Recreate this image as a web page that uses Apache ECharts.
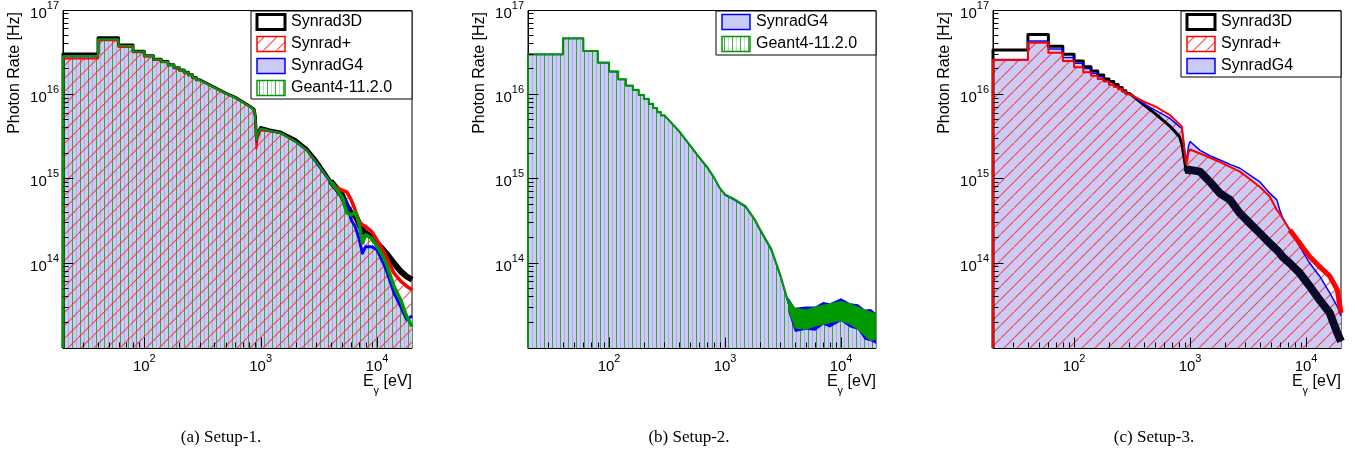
<!DOCTYPE html>
<html>
<head>
<meta charset="utf-8">
<script src="https://cdn.jsdelivr.net/npm/echarts@6.0.0/dist/echarts.min.js"></script>
<style>
  html, body { margin: 0; padding: 0; background: #fff; }
  #chart { width: 1355px; height: 452px; }
</style>
</head>
<body>
<div id="chart"></div>
<script>
// axis ranges
const X_MIN = 20, X_MAX = 20000, Y_MIN = 1e13, Y_MAX = 1e17;

// 20 eV bins below 300 eV
const binEdges = [20, 40, 60, 80, 100, 120, 140, 160, 180, 200, 220, 240, 260, 280, 300];

// ---- Setup-1 ----
const s1_synrad3d_bins = [3.05e16, 4.75e16, 3.9e16, 3.3e16, 2.9e16, 2.65e16, 2.48e16, 2.27e16, 2.1e16, 1.97e16, 1.85e16, 1.73e16, 1.61e16, 1.51e16];
const s1_synradp_bins  = [2.7e16, 4.45e16, 3.7e16, 3.2e16, 2.85e16, 2.6e16, 2.44e16, 2.24e16, 2.07e16, 1.95e16, 1.83e16, 1.71e16, 1.6e16, 1.5e16];
const s1_synradg4_bins = [2.85e16, 4.55e16, 3.8e16, 3.25e16, 2.87e16, 2.62e16, 2.45e16, 2.25e16, 2.08e16, 1.96e16, 1.84e16, 1.72e16, 1.6e16, 1.5e16];
const s1_geant4_bins   = [2.87e16, 4.57e16, 3.8e16, 3.26e16, 2.88e16, 2.63e16, 2.46e16, 2.26e16, 2.09e16, 1.96e16, 1.84e16, 1.72e16, 1.6e16, 1.5e16];
const s1_E = [300, 400, 500, 600, 700, 800, 880, 900, 920, 940, 1000, 1200, 1500, 2000, 2500, 3000, 3500, 4000, 4500, 5000, 5500, 6000, 6500, 7000, 7500, 8000, 9000, 10000, 11000, 12000, 14000, 16000, 18000, 20000];
const s1_synrad3d = [1.5e16, 1.23e16, 1.05e16, 9.4e15, 8.3e15, 7.4e15, 6.7e15, 5.6e15, 3.0e15, 3.5e15, 4.1e15, 3.85e15, 3.6e15, 2.95e15, 2.3e15, 1.7e15, 1.25e15, 9.5e14, 7.8e14, 6.5e14, 4.8e14, 3.95e14, 3.78e14, 3.0e14, 2.5e14, 2.29e14, 2.09e14, 1.75e14, 1.52e14, 1.33e14, 1.01e14, 8.1e13, 7.05e13, 6.45e13];
const s1_synradp  = [1.49e16, 1.22e16, 1.04e16, 9.3e15, 8.2e15, 7.3e15, 6.6e15, 5.0e15, 2.3e15, 3.0e15, 3.8e15, 3.7e15, 3.5e15, 2.8e15, 2.2e15, 1.6e15, 1.2e15, 9.3e14, 8.0e14, 7.4e14, 7.1e14, 5.7e14, 4.3e14, 3.15e14, 2.88e14, 2.75e14, 2.4e14, 1.91e14, 1.52e14, 1.21e14, 7.7e13, 6.2e13, 5.4e13, 4.9e13];
const s1_synradg4 = [1.48e16, 1.22e16, 1.04e16, 9.3e15, 8.2e15, 7.3e15, 6.6e15, 5.3e15, 2.8e15, 3.3e15, 3.95e15, 3.7e15, 3.45e15, 2.75e15, 2.15e15, 1.55e15, 1.15e15, 9.0e14, 7.4e14, 6.0e14, 5.3e14, 3.3e14, 2.75e14, 2.0e14, 1.33e14, 1.59e14, 1.59e14, 1.46e14, 1.11e14, 8.45e13, 4.5e13, 3.1e13, 2.17e13, 2.4e13];
const s1_geant4   = [1.48e16, 1.22e16, 1.04e16, 9.3e15, 8.2e15, 7.3e15, 6.6e15, 5.4e15, 2.9e15, 3.4e15, 4.0e15, 3.75e15, 3.5e15, 2.8e15, 2.2e15, 1.6e15, 1.2e15, 9.3e14, 7.6e14, 6.2e14, 4.0e14, 3.78e14, 4.1e14, 3.0e14, 1.75e14, 2.19e14, 2.0e14, 1.59e14, 1.3e14, 1.01e14, 5.4e13, 3.7e13, 2.37e13, 1.8e13];

// ---- Setup-2 ----
const s2_synradg4_bins = [3.0e16, 4.67e16, 3.3e16, 2.4e16, 1.88e16, 1.52e16, 1.28e16, 1.14e16, 1.0e16, 8.95e15, 7.8e15, 6.95e15, 6.2e15, 5.7e15];
const s2_geant4_bins   = [3.02e16, 4.7e16, 3.32e16, 2.42e16, 1.9e16, 1.53e16, 1.29e16, 1.15e16, 1.0e16, 9.0e15, 7.85e15, 7.0e15, 6.25e15, 5.75e15];
const s2_E = [300, 400, 500, 600, 700, 800, 900, 1000, 1200, 1500, 1800, 2000, 2500, 3000, 3500, 4000, 5000, 6000, 7000, 8000, 10000, 12000, 14000, 16000, 18000, 20000];
const s2_synradg4 = [5.5e15, 3.7e15, 2.5e15, 1.8e15, 1.38e15, 1.05e15, 7.8e14, 6.5e14, 5.7e14, 4.7e14, 3.3e14, 2.5e14, 1.46e14, 7.1e13, 3.4e13, 2.2e13, 2.2e13, 2.35e13, 2.45e13, 2.6e13, 2.75e13, 2.5e13, 2.2e13, 1.95e13, 1.75e13, 1.7e13];
const s2_geant4   = [5.55e15, 3.75e15, 2.52e15, 1.82e15, 1.4e15, 1.06e15, 7.9e14, 6.6e14, 5.8e14, 4.8e14, 3.35e14, 2.55e14, 1.5e14, 7.3e13, 3.5e13, 2.3e13, 2.2e13, 2.37e13, 2.48e13, 2.64e13, 2.8e13, 2.55e13, 2.27e13, 1.98e13, 1.77e13, 1.75e13];
// noisy tail envelopes
const s2_bandE       = [3500, 4000, 5000, 6000, 7000, 8000, 10000, 12000, 14000, 16000, 18000, 20000];
const s2_geant4_hi   = [3.9e13, 3.0e13, 2.85e13, 3.1e13, 3.26e13, 3.4e13, 3.6e13, 3.4e13, 3.1e13, 2.85e13, 2.7e13, 2.6e13];
const s2_geant4_lo   = [2.8e13, 1.7e13, 1.65e13, 1.8e13, 1.89e13, 1.98e13, 2.07e13, 1.89e13, 1.65e13, 1.38e13, 1.2e13, 1.26e13];
const s2_synradg4_hi = [4.0e13, 3.0e13, 3.1e13, 3.1e13, 3.5e13, 3.4e13, 3.9e13, 3.4e13, 3.3e13, 2.85e13, 2.9e13, 2.6e13];
const s2_synradg4_lo = [2.7e13, 1.55e13, 1.65e13, 1.6e13, 1.89e13, 1.75e13, 2.07e13, 1.75e13, 1.65e13, 1.25e13, 1.2e13, 1.12e13];

// ---- Setup-3 ----
const s3_synrad3d_bins = [3.4e16, 5.2e16, 3.78e16, 3.02e16, 2.52e16, 2.16e16, 1.92e16, 1.72e16, 1.54e16, 1.44e16, 1.33e16, 1.22e16, 1.12e16, 1.04e16];
const s3_synradp_bins  = [2.59e16, 4.15e16, 3.16e16, 2.52e16, 2.12e16, 1.85e16, 1.69e16, 1.54e16, 1.44e16, 1.33e16, 1.25e16, 1.17e16, 1.1e16, 1.02e16];
const s3_synradg4_bins = [2.63e16, 4.35e16, 3.5e16, 2.78e16, 2.37e16, 2.06e16, 1.8e16, 1.64e16, 1.47e16, 1.33e16, 1.25e16, 1.17e16, 1.1e16, 1.02e16];
const s3_E = [300, 400, 500, 665, 810, 850, 900, 930, 970, 1000, 1220, 1485, 1810, 2210, 2690, 3280, 4000, 4880, 5600, 5940, 6300, 7240, 8830, 10760, 13100, 16000, 18600, 20000];
const s3_synrad3d = [1.02e16, 7.6e15, 6.0e15, 4.3e15, 3.2e15, 2.6e15, 1.6e15, 1.2e15, 1.3e15, 1.35e15, 1.23e15, 9.3e14, 6.8e14, 5.7e14, 3.95e14, 3.0e14, 2.29e14, 1.74e14, 1.45e14, 1.33e14, 1.2e14, 1.01e14, 7.7e13, 5.4e13, 3.7e13, 2.6e13, 1.5e13, 1.2e13];
const s3_synradp  = [1.02e16, 8.3e15, 7.3e15, 5.8e15, 4.5e15, 4.2e15, 2.0e15, 1.5e15, 2.1e15, 2.25e15, 2.02e15, 1.8e15, 1.6e15, 1.4e15, 1.23e15, 1.0e15, 8.1e14, 6.2e14, 4.3e14, 3.9e14, 3.4e14, 2.5e14, 1.74e14, 1.21e14, 9.2e13, 7.1e13, 4.9e13, 2.6e13];
const s3_synradg4 = [1.0e16, 7.8e15, 6.6e15, 5.3e15, 4.2e15, 4.0e15, 2.2e15, 1.6e15, 2.5e15, 2.8e15, 2.2e15, 1.9e15, 1.69e15, 1.5e15, 1.35e15, 1.12e15, 9.3e14, 6.8e14, 5.7e14, 4.3e14, 3.46e14, 2.5e14, 1.59e14, 1.01e14, 7.1e13, 4.5e13, 3.1e13, 2.4e13];

// ticks
const xMajorTicks = [100, 1000, 10000];
const xMinorTicks = [30, 40, 50, 60, 70, 80, 90, 200, 300, 400, 500, 600, 700, 800, 900, 2000, 3000, 4000, 5000, 6000, 7000, 8000, 9000];
const yMajorTicks = [1e14, 1e15, 1e16];
const yMinorTicks = [2e13, 3e13, 4e13, 5e13, 6e13, 7e13, 8e13, 9e13,
  2e14, 3e14, 4e14, 5e14, 6e14, 7e14, 8e14, 9e14,
  2e15, 3e15, 4e15, 5e15, 6e15, 7e15, 8e15, 9e15,
  2e16, 3e16, 4e16, 5e16, 6e16, 7e16, 8e16, 9e16];

const FONT = 'Liberation Sans, Arial, sans-serif';
const RED = '#ff0000', BLUE = '#0000ff', GREEN = '#009900', BLACK = '#000000';
const LAVENDER = '#cbcbf5';

// hatch patterns
function redHatch() {
  const c = document.createElement('canvas');
  c.width = 13; c.height = 13;
  const g = c.getContext('2d');
  g.strokeStyle = 'rgba(255,50,50,0.9)';
  g.lineWidth = 1.1;
  g.beginPath(); g.moveTo(-2, 15); g.lineTo(15, -2); g.stroke();
  return { image: c, repeat: 'repeat' };
}
function greenHatch() {
  const c = document.createElement('canvas');
  c.width = 8; c.height = 8;
  const g = c.getContext('2d');
  g.fillStyle = 'rgba(10,160,10,0.8)';
  g.fillRect(0, 0, 1, 8);
  g.fillStyle = 'rgba(100,110,170,0.3)';
  g.fillRect(4, 0, 1, 8);
  return { image: c, repeat: 'repeat' };
}
const RED_HATCH = redHatch();
const GREEN_HATCH = greenHatch();

// histogram outline: 20 eV steps then the fine-binned part
function hist(bins, E, vals) {
  const pts = [[X_MIN, Y_MIN]];
  for (let i = 0; i < bins.length; i++) {
    pts.push([binEdges[i], bins[i]]);
    pts.push([binEdges[i + 1], bins[i]]);
  }
  for (let i = 0; i < E.length; i++) pts.push([E[i], vals[i]]);
  return pts;
}
function tail(E, vals, from) {
  const pts = [];
  for (let i = 0; i < E.length; i++) if (E[i] >= from) pts.push([E[i], vals[i]]);
  return pts;
}

function lineSeries(gi, pts, color, width, z, area) {
  const s = {
    type: 'line', xAxisIndex: gi, yAxisIndex: gi, data: pts,
    symbol: 'none', silent: true, animation: false, clip: true, z: z,
    lineStyle: { color: color, width: width, join: 'round' }
  };
  if (area) s.areaStyle = { color: area, opacity: 1, origin: 'start' };
  return s;
}
function areaSeries(gi, pts, fill, z) {
  return lineSeries(gi, pts, 'rgba(0,0,0,0)', 0, z, fill);
}
function bandSeries(gi, E, lo, hi, color, z) {
  return {
    type: 'custom', xAxisIndex: gi, yAxisIndex: gi, silent: true, animation: false, z: z,
    data: [[E[0], lo[0]]],
    renderItem: function (params, api) {
      const pts = [];
      for (let i = 0; i < E.length; i++) pts.push(api.coord([E[i], hi[i]]));
      for (let i = E.length - 1; i >= 0; i--) pts.push(api.coord([E[i], lo[i]]));
      return { type: 'polygon', shape: { points: pts }, style: { fill: color } };
    }
  };
}
function tickSeries(gi, vals, isX, len) {
  const data = vals.map(v => isX ? [v, Y_MIN] : [X_MIN, v]);
  return {
    type: 'custom', xAxisIndex: gi, yAxisIndex: gi, silent: true, animation: false, z: 20,
    data: data,
    renderItem: function (params, api) {
      const p = api.coord([api.value(0), api.value(1)]);
      const x = Math.round(p[0]) + 0.5, y = Math.round(p[1]) - 0.5;
      const shape = isX ? { x1: x, y1: y, x2: x, y2: y - len } : { x1: x, y1: y, x2: x + len, y2: y };
      return { type: 'line', shape: shape, style: { stroke: '#000', lineWidth: 1 } };
    }
  };
}

function powLabel(skip) {
  return function (v) {
    const e = Math.log10(v);
    const r = Math.round(e);
    if (Math.abs(e - r) > 1e-6 || r === skip) return '';
    return '{b|10}{s|' + r + '}';
  };
}
const labelRich = {
  b: { fontFamily: FONT, fontSize: 15, color: '#000', padding: [6, 0, 0, 0], verticalAlign: 'bottom' },
  s: { fontFamily: FONT, fontSize: 11, color: '#000', verticalAlign: 'top' }
};

const grids = [
  { left: 63, top: 10, width: 349, height: 338 },
  { left: 528, top: 10, width: 348, height: 338 },
  { left: 993, top: 10, width: 348, height: 338 }
];

const xAxes = grids.map((g, i) => ({
  type: 'log', gridIndex: i, min: X_MIN, max: X_MAX, logBase: 10,
  axisLine: { show: true, lineStyle: { color: '#000', width: 1 } },
  axisTick: { show: false }, splitLine: { show: false },
  axisLabel: { margin: 5, formatter: powLabel(null), rich: labelRich, showMinLabel: false, showMaxLabel: false }
}));
const yAxes = grids.map((g, i) => ({
  type: 'log', gridIndex: i, min: Y_MIN, max: Y_MAX, logBase: 10,
  axisLine: { show: true, lineStyle: { color: '#000', width: 1 } },
  axisTick: { show: false }, splitLine: { show: false },
  axisLabel: { margin: 4, formatter: powLabel(13), rich: labelRich }
}));

const series = [];
// Setup-1
series.push(areaSeries(0, hist(s1_synradg4_bins, s1_E, s1_synradg4), LAVENDER, 1));
series.push(areaSeries(0, hist(s1_geant4_bins, s1_E, s1_geant4), GREEN_HATCH, 2));
series.push(areaSeries(0, hist(s1_synradp_bins, s1_E, s1_synradp), RED_HATCH, 3));
series.push(lineSeries(0, hist(s1_synrad3d_bins, s1_E, s1_synrad3d), BLACK, 3, 4));
series.push(lineSeries(0, tail(s1_E, s1_synrad3d, 4000), BLACK, 6, 4));
series.push(lineSeries(0, hist(s1_synradp_bins, s1_E, s1_synradp), RED, 2, 5));
series.push(lineSeries(0, tail(s1_E, s1_synradp, 4000), RED, 3.5, 5));
series.push(lineSeries(0, hist(s1_synradg4_bins, s1_E, s1_synradg4), BLUE, 1.5, 6));
series.push(lineSeries(0, tail(s1_E, s1_synradg4, 4000), BLUE, 3, 6));
series.push(lineSeries(0, hist(s1_geant4_bins, s1_E, s1_geant4), GREEN, 2, 7));
series.push(lineSeries(0, tail(s1_E, s1_geant4, 4000), GREEN, 3.5, 7));
// Setup-2
series.push(areaSeries(1, hist(s2_synradg4_bins, s2_E, s2_synradg4), LAVENDER, 1));
series.push(areaSeries(1, hist(s2_geant4_bins, s2_E, s2_geant4), GREEN_HATCH, 3));
series.push(lineSeries(1, hist(s2_synradg4_bins, s2_E, s2_synradg4), BLUE, 1.5, 6));
series.push(lineSeries(1, hist(s2_geant4_bins, s2_E, s2_geant4), GREEN, 2, 7));
series.push(bandSeries(1, s2_bandE, s2_synradg4_lo, s2_synradg4_hi, BLUE, 8));
series.push(bandSeries(1, s2_bandE, s2_geant4_lo, s2_geant4_hi, GREEN, 9));
// Setup-3
series.push(areaSeries(2, hist(s3_synradg4_bins, s3_E, s3_synradg4), LAVENDER, 1));
series.push(areaSeries(2, hist(s3_synradp_bins, s3_E, s3_synradp), RED_HATCH, 2));
series.push(lineSeries(2, hist(s3_synrad3d_bins, s3_E, s3_synrad3d), BLACK, 3, 4));
series.push(lineSeries(2, tail(s3_E, s3_synrad3d, 930), '#0a0a28', 8, 4));
series.push(lineSeries(2, hist(s3_synradg4_bins, s3_E, s3_synradg4), BLUE, 1.5, 5));
series.push(lineSeries(2, hist(s3_synradp_bins, s3_E, s3_synradp), RED, 2, 6));
series.push(lineSeries(2, tail(s3_E, s3_synradp, 7240), RED, 5, 6));
// ticks
for (let gi = 0; gi < 3; gi++) {
  series.push(tickSeries(gi, xMajorTicks, true, 10));
  series.push(tickSeries(gi, xMinorTicks, true, 5));
  series.push(tickSeries(gi, yMajorTicks, false, 10));
  series.push(tickSeries(gi, yMinorTicks, false, 5));
}

// legends, titles, captions
const legendStyles = {
  'Synrad3D': { fill: '#fff', stroke: BLACK, lineWidth: 3 },
  'Synrad+': { fill: RED_HATCH, stroke: RED, lineWidth: 1.5 },
  'SynradG4': { fill: LAVENDER, stroke: BLUE, lineWidth: 1.5 },
  'Geant4-11.2.0': { fill: GREEN_HATCH, stroke: GREEN, lineWidth: 1.5 }
};
function legendBox(x, width, names) {
  const ch = [{ type: 'rect', shape: { x: 0, y: 0, width: width, height: names.length * 22 }, style: { fill: '#fff', stroke: '#000', lineWidth: 1 } }];
  names.forEach((n, i) => {
    const cy = 11 + 22 * i;
    const st = legendStyles[n];
    ch.push({ type: 'rect', shape: { x: 6, y: cy - 7.5, width: 28, height: 15 }, style: { fill: '#fff' } });
    ch.push({ type: 'rect', shape: { x: 6, y: cy - 7.5, width: 28, height: 15 }, style: { fill: st.fill, stroke: st.stroke, lineWidth: st.lineWidth } });
    ch.push({ type: 'text', x: 40, y: cy, style: { text: n, font: '16px ' + FONT, fill: '#000', verticalAlign: 'middle' } });
  });
  return { type: 'group', x: x, y: 11, z: 100, children: ch };
}
function yTitle(x) {
  return { type: 'text', x: x, y: 12, rotation: Math.PI / 2, z: 100,
    style: { text: 'Photon Rate [Hz]', font: '16px ' + FONT, fill: '#000', align: 'right', verticalAlign: 'middle' } };
}
function xTitle(x) {
  return { type: 'text', x: x, y: 374, z: 100,
    style: { text: '{n|E}{g|\u03b3}{n| [eV]}', align: 'right', verticalAlign: 'top',
      rich: {
        n: { fontFamily: FONT, fontSize: 16, color: '#000', lineHeight: 18, verticalAlign: 'top' },
        g: { fontFamily: FONT, fontSize: 11, color: '#000', padding: [11, 0, 0, 0], verticalAlign: 'top' }
      } } };
}
function caption(x, text) {
  return { type: 'text', x: x, y: 438, z: 100,
    style: { text: text, font: '17px Liberation Serif, Times New Roman, serif', fill: '#000', align: 'center', verticalAlign: 'middle' } };
}

const graphic = [
  legendBox(251, 161, ['Synrad3D', 'Synrad+', 'SynradG4', 'Geant4-11.2.0']),
  legendBox(716, 160, ['SynradG4', 'Geant4-11.2.0']),
  legendBox(1181, 160, ['Synrad3D', 'Synrad+', 'SynradG4']),
  yTitle(15), yTitle(480), yTitle(945),
  xTitle(412), xTitle(876), xTitle(1341),
  caption(221, '(a) Setup-1.'), caption(689, '(b) Setup-2.'), caption(1154, '(c) Setup-3.')
];

const chart = echarts.init(document.getElementById('chart'), null, { renderer: 'canvas' });
chart.setOption({
  animation: false,
  backgroundColor: '#fff',
  grid: grids.map(g => Object.assign({ show: true, borderColor: '#000', borderWidth: 1, backgroundColor: 'transparent' }, g)),
  xAxis: xAxes,
  yAxis: yAxes,
  series: series,
  graphic: graphic
});
</script>
</body>
</html>
